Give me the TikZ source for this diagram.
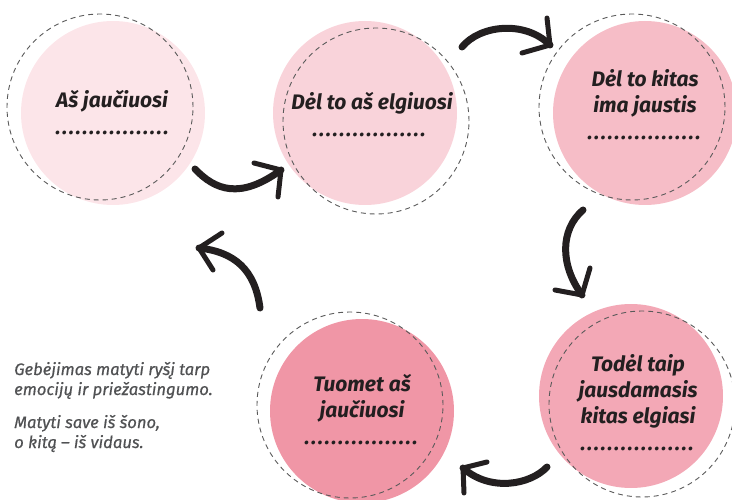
\documentclass[tikz,border=0pt]{standalone}
\usepackage{fontspec}
\setmainfont{Fira Sans}
\definecolor{ink}{HTML}{231F20}
\definecolor{notegray}{HTML}{505153}
\definecolor{ringgray}{HTML}{5A5A5A}
\definecolor{pinkA}{HTML}{FCE5E9}
\definecolor{pinkB}{HTML}{F9D3DA}
\definecolor{pinkC}{HTML}{F6BDC7}
\definecolor{pinkD}{HTML}{F096A6}
\definecolor{pinkE}{HTML}{F3A8B6}
% a dotted blank to be filled in
\newcommand{\fillin}{\foreach \i in {1,...,17}{.\kern1.7pt}\unskip}
\begin{document}
\begin{tikzpicture}[x=1pt,y=-1pt,
  disc/.style={circle, minimum size=184pt, inner sep=0pt},
  ring/.style={circle, draw=ringgray, dash pattern=on 5pt off 4pt, line width=0.9pt, minimum size=186pt, inner sep=0pt},
  caption/.style={anchor=base, font=\fontsize{21}{26}\selectfont\bfseries\itshape, text=ink, align=center, inner sep=0pt},
  blank/.style={anchor=base, font=\fontsize{21}{21}\selectfont\bfseries\itshape, text=ink, inner sep=0pt},
  brush/.style={draw=ink, line width=7pt, line cap=round, line join=round},
  barb/.style={draw=ink, line width=5pt, line cap=round, line join=round},
]
\useasboundingbox (0,0) rectangle (732,500);

% pink discs
\node[disc, fill=pinkA] (disc1) at (113,113) {};
\node[disc, fill=pinkB] (disc2) at (365,113) {};
\node[disc, fill=pinkC] (disc3) at (645,113) {};
\node[disc, fill=pinkD] (disc4) at (362,411) {};
\node[disc, fill=pinkE] (disc5) at (631,396) {};

% dashed rings, slightly offset from the discs
\node[ring] (ring1) at (100,107) {};
\node[ring] (ring2) at (376,121) {};
\node[ring] (ring3) at (632,107) {};
\node[ring] (ring4) at (350,405) {};
\node[ring] (ring5) at (642,404) {};

% captions (anchored at the baseline of their last line)
\node[caption] (cap1) at (112,108) {Aš jaučiuosi};
\node[caption] (cap2) at (372,110) {Dėl to aš elgiuosi};
\node[caption] (cap3) at (645,113) {Dėl to kitas\\ima jaustis};
\node[caption] (cap4) at (362,417) {Tuomet aš\\jaučiuosi};
\node[caption] (cap5) at (638,423) {Todėl taip\\jausdamasis\\kitas elgiasi};

% blanks to fill in
\node[blank] (dots1) at (113,135) {\fillin};
\node[blank] (dots2) at (370,137) {\fillin};
\node[blank] (dots3) at (645,140) {\fillin};
\node[blank] (dots4) at (362,444) {\fillin};
\node[blank] (dots5) at (638,450) {\fillin};

% side note
\node[anchor=base west, inner sep=0pt, align=left, text=notegray,
      font=\fontsize{16.6}{20}\selectfont\itshape\addfontfeature{FakeBold=0.6}] (note) at (14,448)
  {Gebėjimas matyti ryšį tarp\\emocijų ir priežastingumo.\\[13pt]Matyti save iš šono,\\o kitą -- iš vidaus.};

% arrow end points
\coordinate (a1s) at (195,169); \coordinate (a1t) at (281,170);
\coordinate (a1b) at (254,163); \coordinate (a1c) at (278,197);
\coordinate (a2s) at (462,47);  \coordinate (a2t) at (550,45);
\coordinate (a2b) at (547,18);  \coordinate (a2c) at (522,53);
\coordinate (a3s) at (583,210); \coordinate (a3t) at (582,295);
\coordinate (a3b) at (590,268); \coordinate (a3c) at (555,290);
\coordinate (a4s) at (547,467); \coordinate (a4t) at (463,468);
\coordinate (a4b) at (487,462); \coordinate (a4c) at (464,493);
\coordinate (a5s) at (260,308); \coordinate (a5t) at (199,248);
\coordinate (a5b) at (222,233); \coordinate (a5c) at (213,270);

% brush-stroke arrows between the steps
\draw[brush] (a1s) .. controls (215,190) and (240,200) .. (a1t);
\draw[barb] (a1b) -- (a1t) -- (a1c);
\draw[brush] (a2s) .. controls (480,25) and (525,20) .. (a2t);
\draw[barb] (a2b) -- (a2t) -- (a2c);
\draw[brush] (a3s) .. controls (560,230) and (560,265) .. (a3t);
\draw[barb] (a3b) -- (a3t) -- (a3c);
\draw[brush] (a4s) .. controls (530,485) and (490,492) .. (a4t);
\draw[barb] (a4b) -- (a4t) -- (a4c);
\draw[brush] (a5s) .. controls (255,270) and (235,252) .. (a5t);
\draw[barb] (a5b) -- (a5t) -- (a5c);
\end{tikzpicture}
\end{document}
